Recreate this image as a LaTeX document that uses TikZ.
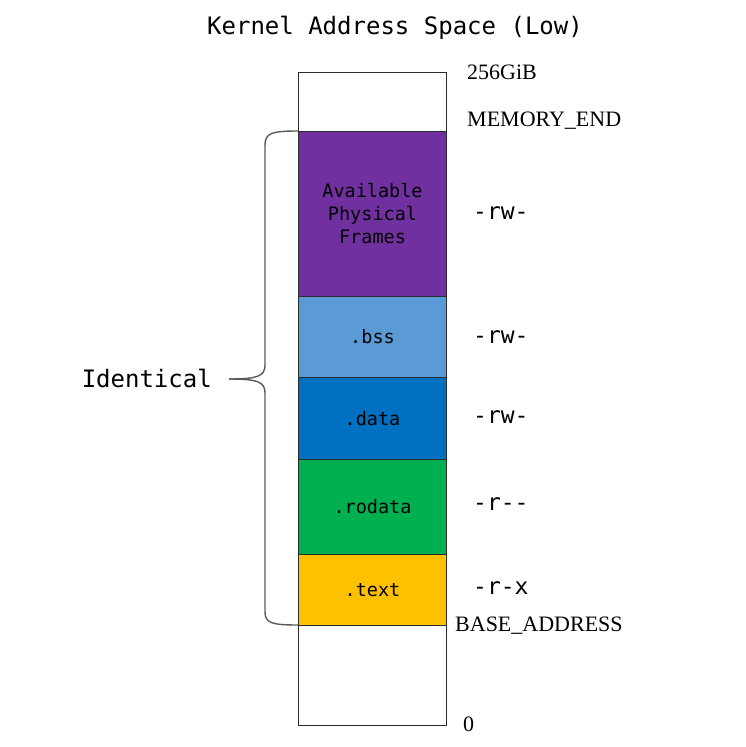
\documentclass[tikz,border=0pt]{standalone}
\usepackage{fontspec}
\setmainfont{Liberation Serif}
\setmonofont{DejaVu Sans Mono}
\definecolor{cpurple}{HTML}{7030A0}
\definecolor{clblue}{HTML}{5B9BD5}
\definecolor{cblue}{HTML}{0070C0}
\definecolor{cgreen}{HTML}{00B050}
\definecolor{cyellow}{HTML}{FFC000}
\definecolor{cedge}{HTML}{2B2B2B}
\definecolor{cbrace}{HTML}{5A5A5A}
\tikzset{
  region/.style={draw=cedge, line width=1bp, anchor=north west, minimum width=148bp,
    inner sep=0pt, align=center, font=\ttfamily\fontsize{18.5bp}{23.5bp}\selectfont},
  perm/.style={anchor=west, inner sep=0pt, font=\ttfamily\fontsize{23bp}{26bp}\selectfont},
  addr/.style={anchor=west, inner sep=0pt, font=\fontsize{22bp}{26bp}\selectfont},
  bigmono/.style={inner sep=0pt, font=\ttfamily\fontsize{24bp}{28bp}\selectfont},
  bracepath/.style={draw=cbrace, line width=1.4bp}
}
\begin{document}
\begin{tikzpicture}[x=1bp,y=-1bp]
\useasboundingbox (0,0) rectangle (746,747);
% title
\node[bigmono] (title) at (395,28) {Kernel Address Space (Low)};
% regions
\node[region, minimum height=59bp] (top) at (298,72) {};
\node[region, minimum height=165bp, fill=cpurple] (frames) at (298,131) {Available\\[-0.5bp]Physical\\[-0.5bp]Frames};
\node[region, minimum height=81bp, fill=clblue] (bss) at (298,296) {.bss};
\node[region, minimum height=82bp, fill=cblue] (data) at (298,377) {.data};
\node[region, minimum height=95bp, fill=cgreen] (rodata) at (298,459) {.rodata};
\node[region, minimum height=71bp, fill=cyellow] (text) at (298,554) {.text};
\node[region, minimum height=100bp] (bottom) at (298,625) {};
% address labels
\node[addr] (a256) at (467,72) {256GiB};
\node[addr] (amem) at (467,121) {MEMORY\_END};
\node[addr] (abase) at (455,626) {BASE\_ADDRESS};
\node[addr] (azero) at (463,724) {0};
% permissions
\node[perm] (p1) at (473,213) {-rw-};
\node[perm] (p2) at (473,337) {-rw-};
\node[perm] (p3) at (473,417) {-rw-};
\node[perm] (p4) at (473,504) {-r--};
\node[perm] (p5) at (473,588) {-r-x};
% brace
\node[bigmono, anchor=east] (ident) at (212,378) {Identical};
\coordinate (btop) at (frames.north west);
\coordinate (bbot) at (bottom.north west);
\coordinate (btip) at (229,379);
\path[bracepath] (btop) .. controls (272,131) and (265,133) .. (265,145) -- (265,365)
  .. controls (265,376) and (258,379) .. (btip);
\path[bracepath] (btip) .. controls (258,379) and (265,382) .. (265,393) -- (265,612)
  .. controls (265,623) and (272,625) .. (bbot);
\end{tikzpicture}
\end{document}
